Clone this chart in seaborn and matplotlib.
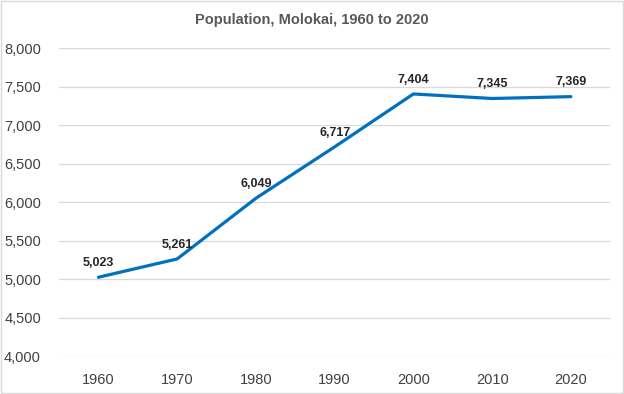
import matplotlib
matplotlib.use("Agg")
import matplotlib.pyplot as plt
import seaborn as sns
import pandas as pd
from matplotlib.patches import Rectangle

years = ["1960", "1970", "1980", "1990", "2000", "2010", "2020"]
population = [5023, 5261, 6049, 6717, 7404, 7345, 7369]
yticks = [4000, 4500, 5000, 5500, 6000, 6500, 7000, 7500, 8000]

sns.set_theme(style="white")
plt.rcParams['font.family'] = ['Liberation Sans', 'DejaVu Sans']

df = pd.DataFrame({"pos": range(len(years)), "year": years, "pop": population})

fig = plt.figure(figsize=(6.24, 3.94), dpi=100)
ax = fig.add_axes([0.0946, 0.0964, 0.978 - 0.0946, 0.878 - 0.0964])

sns.lineplot(data=df, x="pos", y="pop", ax=ax, color="#0070C0", linewidth=2.3)

ax.set_xlim(-0.5, len(years) - 0.5)
ax.set_ylim(4000, 8000)
ax.set_yticks(yticks)
ax.set_yticklabels([f"{v:,}" for v in yticks], fontsize=10.5, color="#404040")
ax.set_xticks(range(len(years)))
ax.set_xticklabels(years, fontsize=10.5, color="#404040")
ax.tick_params(axis="y", length=0, pad=13)
ax.tick_params(axis="x", length=0, pad=12)
ax.set_xlabel("")
ax.set_ylabel("")
ax.yaxis.grid(True, color="#d9d9d9", linewidth=0.9)
ax.set_axisbelow(True)
for s in ax.spines.values():
    s.set_visible(False)

for i, v in enumerate(population):
    ax.annotate(f"{v:,}", (i, v), xytext=(0, 6), textcoords="offset points",
                ha="center", va="bottom", fontsize=9, fontweight="bold", color="#262626")

fig.text(0.5, 0.949, "Population, Molokai, 1960 to 2020", ha="center", va="center",
         fontsize=10.5, color="#595959", fontweight="bold")

fig.patches.append(Rectangle((0.002, 0.003), 0.996, 0.994, transform=fig.transFigure,
                             fill=False, edgecolor="#d9d9d9", linewidth=1))

fig.savefig("out.png", dpi=100)
